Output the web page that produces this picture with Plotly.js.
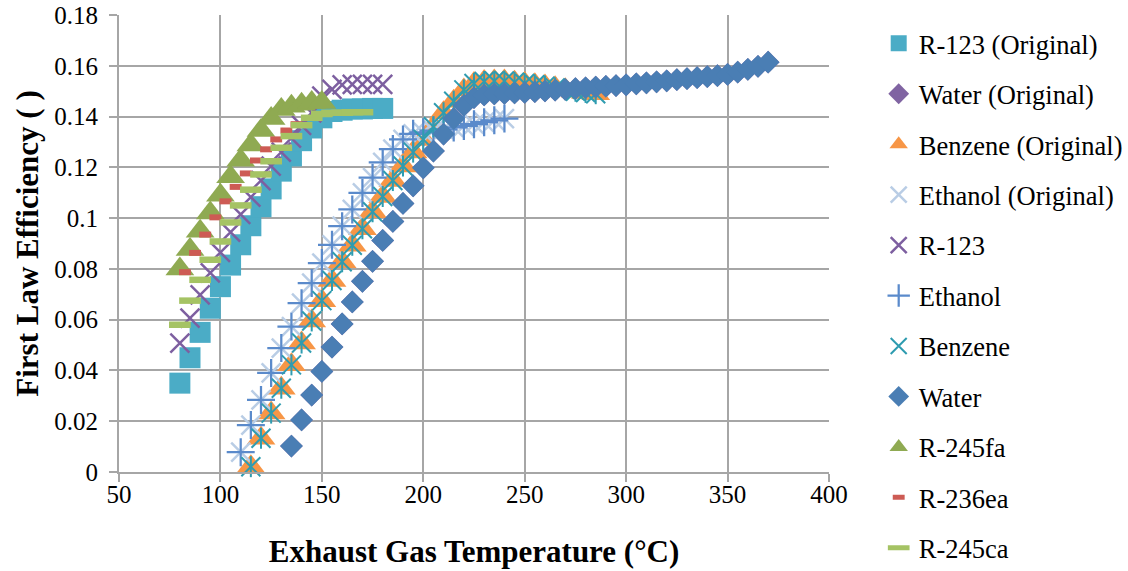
<!DOCTYPE html>
<html>
<head>
<meta charset="utf-8">
<script src="https://cdn.plot.ly/plotly-3.0.1.min.js"></script>
<style>
  html, body { margin: 0; padding: 0; background: #fff; }
  #chart { width: 1128px; height: 571px; }
</style>
</head>
<body>
<div id="chart"></div>
<script>
// Exhaust gas temperature (°C) and first law efficiency for each working fluid

const r123OrigT   = [80,85,90,95,100,105,110,115,120,125,130,135,140,145,150,155,160,165,170,175,180];
const r123OrigEff = [0.035,0.045,0.055,0.0645,0.073,0.0815,0.0895,0.097,0.1045,0.1115,0.1185,0.1245,0.1305,0.1355,0.1395,0.142,0.1425,0.143,0.143,0.1432,0.1432];

const waterT   = [135,140,145,150,155,160,165,170,175,180,185,190,195,200,205,210,215,220,225,230,235,240,245,250,255,260,265,270,275,280,285,290,295,300,305,310,315,320,325,330,335,340,345,350,355,360,365,370];
const waterEff = [0.0102,0.0205,0.0303,0.0396,0.0492,0.0583,0.0670,0.0751,0.0830,0.0912,0.0987,0.1058,0.1127,0.1198,0.1264,0.1331,0.1392,0.1444,0.1475,0.1485,0.1489,0.1491,0.1493,0.1495,0.1498,0.1501,0.1504,0.1507,0.1510,0.1513,0.1516,0.1519,0.1522,0.1525,0.1529,0.1533,0.1537,0.1541,0.1545,0.1549,0.1553,0.1557,0.1561,0.1566,0.1575,0.1586,0.1598,0.1614];
const waterOrigT   = waterT;
const waterOrigEff = waterEff;

const benzeneT   = [115,120,125,130,135,140,145,150,155,160,165,170,175,180,185,190,195,200,205,210,215,220,225,230,235,240,245,250,255,260,265,270,275,280,285];
const benzeneEff = [0.0021,0.0133,0.0232,0.033,0.0422,0.0508,0.0595,0.0675,0.0754,0.0828,0.0893,0.0958,0.1025,0.1085,0.1148,0.1205,0.126,0.131,0.136,0.1415,0.146,0.1505,0.153,0.1538,0.154,0.154,0.1535,0.153,0.1525,0.152,0.1513,0.1506,0.15,0.1495,0.149];
const benzeneOrigT   = benzeneT;
const benzeneOrigEff = benzeneEff;

const ethanolT   = [110,115,120,125,130,135,140,145,150,155,160,165,170,175,180,185,190,195,200,205,210,215,220,225,230,235,240];
const ethanolEff = [0.0078,0.0185,0.0284,0.039,0.0488,0.0573,0.0665,0.0744,0.0823,0.0895,0.0968,0.1034,0.1099,0.1159,0.122,0.1272,0.131,0.1332,0.1338,0.1345,0.135,0.1357,0.1363,0.137,0.1378,0.1385,0.1392];
const ethanolOrigT   = ethanolT;
const ethanolOrigEff = ethanolEff;

const r123T   = [80,85,90,95,100,105,110,115,120,125,130,135,140,145,150,155,160,165,170,175,180];
const r123Eff = [0.0508,0.0606,0.0698,0.0784,0.0865,0.0945,0.1015,0.1083,0.1148,0.1205,0.126,0.1315,0.1365,0.1415,0.148,0.1507,0.1525,0.1527,0.1527,0.1527,0.1527];

const r245faT   = [80,85,90,95,100,105,110,115,120,125,130,135,140,145,150];
const r245faEff = [0.080,0.0876,0.0948,0.102,0.109,0.1163,0.1228,0.1288,0.1345,0.1392,0.1428,0.1441,0.1448,0.1455,0.1455];

const r236eaT   = [82.5,87.5,92.5,97.5,102.5,107.5,112.5,117.5,122.5,127.5,132.5,137.5];
const r236eaEff = [0.0787,0.0863,0.0935,0.1003,0.1066,0.1123,0.1176,0.1227,0.1271,0.131,0.1345,0.137];

const r245caT   = [80,85,90,95,100,105,110,115,120,125,130,135,140,145,150,155,160,165,170];
const r245caEff = [0.058,0.0675,0.0757,0.0836,0.0908,0.0983,0.105,0.1112,0.1172,0.1224,0.1277,0.1323,0.1366,0.1395,0.141,0.1415,0.1415,0.1417,0.1417];

const xTicks = [50,100,150,200,250,300,350,400];
const yTicks = [0,0.02,0.04,0.06,0.08,0.1,0.12,0.14,0.16,0.18];

const FONT = '"Times New Roman", Times, serif';

function series(name, x, y, marker, group, showlegend) {
  return {
    type: 'scatter', mode: 'markers', name: name, x: x, y: y,
    marker: marker, cliponaxis: false,
    legendgroup: group || name,
    showlegend: showlegend !== false,
    hoverinfo: 'skip'
  };
}

const traces = [
  series('R-123 (Original)', r123OrigT, r123OrigEff,
    {symbol: 'square', size: 21, color: '#4BACC6', line: {width: 0}}),
  series('Water (Original)', waterOrigT, waterOrigEff,
    {symbol: 'diamond', size: 17.5, color: '#8064A2', line: {width: 0}}),
  series('Benzene (Original)', benzeneOrigT, benzeneOrigEff,
    {symbol: 'triangle-up', size: 25, color: '#F79646', line: {width: 0}}),
  series('Ethanol (Original)', ethanolOrigT, ethanolOrigEff,
    {symbol: 'x-thin', size: 19, color: '#B9CDE5', line: {color: '#B9CDE5', width: 2.5}}),
  series('R-123', r123T, r123Eff,
    {symbol: 'x-thin', size: 19, color: '#7D5FA0', line: {color: '#7D5FA0', width: 2.5}}),
  series('Ethanol', ethanolT, ethanolEff,
    {symbol: 'cross-thin', size: 20, color: '#5A8ACB', line: {color: '#5A8ACB', width: 2.25}}),
  series('Benzene', benzeneT, benzeneEff,
    {symbol: 'x-thin', size: 19, color: '#2F9CB0', line: {color: '#2F9CB0', width: 2}}),
  // vertical stroke completing the star marker of the Benzene series
  series('Benzene', benzeneT, benzeneEff,
    {symbol: 'line-ns', size: 15, color: '#2F9CB0', line: {color: '#2F9CB0', width: 2}}, 'Benzene', false),
  series('Water', waterT, waterEff,
    {symbol: 'diamond', size: 17.5, color: '#4A7EB4', line: {width: 0}}),
  series('R-245fa', r245faT, r245faEff,
    {symbol: 'triangle-up', size: 25, color: '#8FAA52', line: {width: 0}}),
  series('R-236ea', r236eaT, r236eaEff,
    {symbol: 'line-ew', size: 8.5, color: '#CD5B54', line: {color: '#CD5B54', width: 6}}),
  series('R-245ca', r245caT, r245caEff,
    {symbol: 'line-ew', size: 15.5, color: '#A5C364', line: {color: '#A5C364', width: 6.5}})
];

const GRID = '#A6A6A6';

const layout = {
  width: 1128, height: 571,
  margin: {l: 119, r: 299, t: 15, b: 99, autoexpand: false},
  paper_bgcolor: '#ffffff', plot_bgcolor: '#ffffff',
  font: {family: FONT, color: '#000000'},
  showlegend: true,
  xaxis: {
    range: [50, 400], tickvals: xTicks, ticktext: xTicks.map(String),
    showgrid: true, gridcolor: GRID, gridwidth: 2,
    showline: true, linecolor: GRID, linewidth: 2,
    ticks: 'outside', ticklen: 8, tickwidth: 2, tickcolor: GRID,
    tickfont: {family: FONT, size: 25, color: '#000'},
    ticklabelstandoff: -9,
    zeroline: false,
    title: {text: '<b>Exhaust Gas Temperature (°C)</b>', font: {family: FONT, size: 31, color: '#000'}, standoff: 33}
  },
  yaxis: {
    range: [0, 0.18], tickvals: yTicks, ticktext: yTicks.map(String),
    showgrid: true, gridcolor: GRID, gridwidth: 2,
    showline: true, linecolor: GRID, linewidth: 2,
    ticks: 'outside', ticklen: 8, tickwidth: 2, tickcolor: GRID,
    tickfont: {family: FONT, size: 25, color: '#000'},
    ticklabelstandoff: 6,
    zeroline: false,
    title: {text: '<b>First Law Efficiency ( )</b>', font: {family: FONT, size: 31, color: '#000'}, standoff: 6}
  },
  legend: {
    x: 1.07, xanchor: 'left', y: 0.99, yanchor: 'top',
    maxheight: 565,
    font: {family: FONT, size: 26.5, color: '#000'},
    itemsizing: 'trace', tracegroupgap: 13,
    bgcolor: 'rgba(0,0,0,0)', borderwidth: 0
  }
};

Plotly.newPlot('chart', traces, layout, {staticPlot: true, displayModeBar: false});
</script>
</body>
</html>
